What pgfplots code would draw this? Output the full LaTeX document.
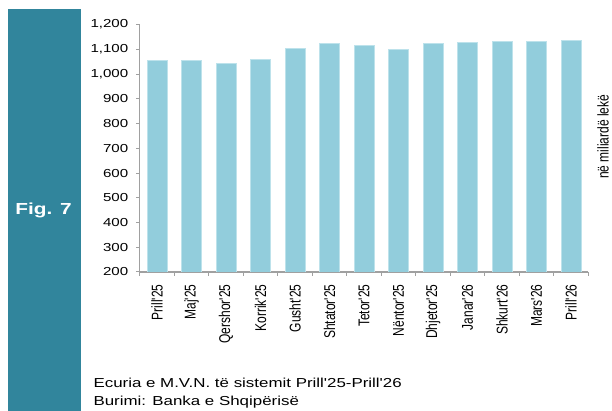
\documentclass[border=0pt]{standalone}
\usepackage{fontspec}
\setmainfont{Liberation Sans}[FakeStretch=1.3, Ligatures=TeXOff]
\newfontfamily\rotfont{Liberation Sans}[Ligatures=TeXOff]
\usepackage{pgfplots}
\pgfplotsset{compat=1.18}
\definecolor{figteal}{HTML}{31859C}
\definecolor{barblue}{HTML}{92CDDC}
\definecolor{baredge}{HTML}{BDE2EB}
\definecolor{axgray}{HTML}{A0A0A0}

\begin{document}
\begin{tikzpicture}[x=1pt,y=1pt]
\path[use as bounding box] (0,0) rectangle (612,411);
\fill[figteal] (8.3,0) rectangle (81,401.7);
\node[white, font=\fontsize{16}{18}\selectfont\bfseries] at (43.5,201) {Fig. 7};

\begin{axis}[
  at={(139.8pt,139pt)}, anchor=south west,
  scale only axis, width=448.5pt, height=247.3pt,
  ybar, bar width=20pt,
  xmin=-0.5, xmax=12.5, ymin=200, ymax=1200,
  ytick={200,300,...,1200},
  xtick={0,...,12},
  xticklabels={Prill'25,Maj'25,Qershor'25,Korrik'25,Gusht'25,Shtator'25,Tetor'25,Nëntor'25,Dhjetor'25,Janar'26,Shkurt'26,Mars'26,Prill'26},
  minor xtick={-0.5,0.5,...,12.5},
  axis x line*=bottom, axis y line*=left,
  axis line style={axgray, line width=1.2pt, -},
  tick align=outside,
  major tick length=4pt, minor tick length=4pt,
  major x tick style={draw=none},
  minor x tick style={axgray, line width=1pt},
  y tick style={axgray, line width=1pt},
  yticklabel style={xshift=-4pt, font=\fontsize{11.6}{13}\selectfont, text=black},
  xticklabel style={yshift=-5pt, rotate=90, anchor=east, yscale=1.3, font=\rotfont\fontsize{12}{14}\selectfont, text=black},
  /pgf/number format/.cd, 1000 sep={,}, assume math mode=true,
]
\addplot[fill=barblue, draw=baredge, line width=0.7pt] coordinates {
  (0,1054) (1,1054) (2,1042) (3,1059) (4,1105) (5,1124) (6,1116)
  (7,1100) (8,1124) (9,1128) (10,1132) (11,1132) (12,1137)
};
\end{axis}

\node[rotate=90, yscale=1.3, font=\rotfont\fontsize{12}{14}\selectfont] at (603,274.3) {në miliardë lekë};
\node[anchor=base west, font=\fontsize{13}{15}\selectfont] at (90,23) {Ecuria e M.V.N. të sistemit Prill'25-Prill'26};
\node[anchor=base west, font=\fontsize{13}{15}\selectfont] at (90,5) {Burimi: Banka e Shqipërisë};
\end{tikzpicture}
\end{document}
